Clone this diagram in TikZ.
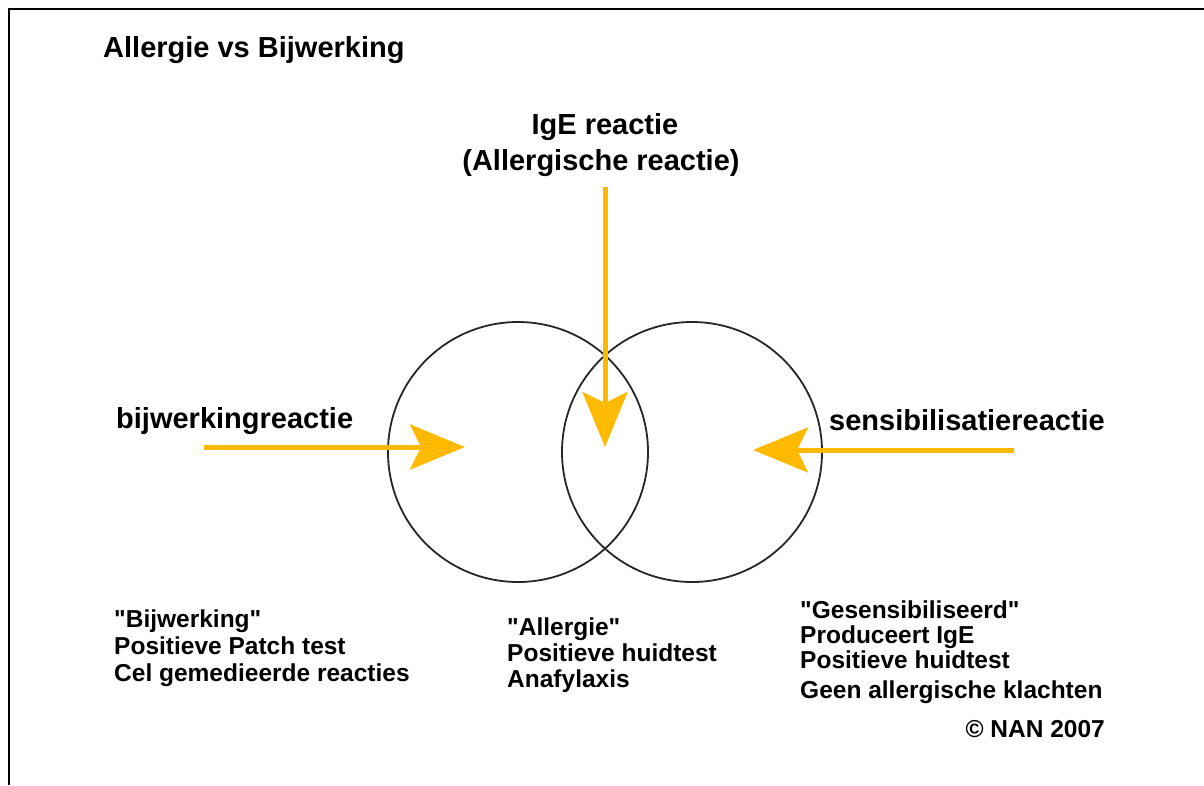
\documentclass[tikz,border=0pt]{standalone}
\usepackage{fontspec}
\setmainfont{Liberation Sans}
\usetikzlibrary{arrows.meta,positioning}
\definecolor{pijlgeel}{RGB}{255,186,0}

\begin{document}
\begin{tikzpicture}[x=1pt,y=-1pt,
    kop/.style={font=\fontsize{29}{36}\selectfont\bfseries, inner sep=0pt},
    tekst/.style={font=\fontsize{24.5}{27}\selectfont\bfseries, inner sep=0pt, align=left, anchor=north west},
    ring/.style={circle, draw=black!85, line width=1.8pt, minimum size=260pt, inner sep=0pt},
    pijl/.style={-{Stealth[length=55pt,width=45pt,inset=11pt]}, draw=pijlgeel, line width=5pt}]
    \useasboundingbox (0,0) rectangle (1204,785);
    \draw[line width=2pt] (9,785) -- (9,9) -- (1204,9);

    \node[kop, anchor=base west] (titel) at (103,57) {Allergie vs Bijwerking};
    \node[kop, anchor=base] (ige) at (605,134) {IgE reactie};
    \node[kop, anchor=base] (allergisch) at (601,170) {(Allergische reactie)};
    \node[kop, anchor=base west] (bijw) at (116,428) {bijwerkingreactie};
    \node[kop, anchor=base west] (sens) at (829,430) {sensibilisatiereactie};

    \node[ring] (links) at (518,452) {};
    \node[ring] (rechts) at (692,452) {};

    \coordinate (bijw_in) at (204,447);
    \coordinate (bijw_uit) at (465,447);
    \coordinate (ige_in) at (605,187);
    \coordinate (ige_uit) at (605,447);
    \coordinate (sens_in) at (1014,450);
    \coordinate (sens_uit) at (753,450);

    \path
    (bijw_in) edge[pijl] (bijw_uit)
    (ige_in) edge[pijl] (ige_uit)
    (sens_in) edge[pijl] (sens_uit)
    ;

    \node[tekst] (bijw_lijst) at (114,610) {\textquotedbl Bijwerking\textquotedbl\\ Positieve Patch test\\ Cel gemedieerde reacties};
    \node[tekst, font=\fontsize{24.5}{26}\selectfont\bfseries] (allergie_lijst) at (507,618) {\textquotedbl Allergie\textquotedbl\\ Positieve huidtest\\ Anafylaxis};
    \node[tekst, font=\fontsize{24.5}{25}\selectfont\bfseries] (sens_lijst) at (800,601) {\textquotedbl Gesensibiliseerd\textquotedbl\\ Produceert IgE\\ Positieve huidtest\\[5pt] Geen allergische klachten};
    \node[tekst, anchor=base east] (copyright) at (1105,737) {© NAN 2007};
\end{tikzpicture}
\end{document}
